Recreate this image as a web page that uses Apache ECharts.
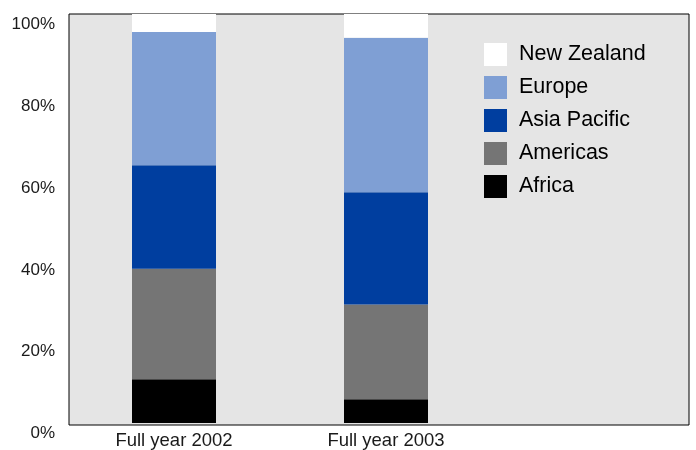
<!DOCTYPE html>
<html>
<head>
<meta charset="utf-8">
<script src="https://cdn.jsdelivr.net/npm/echarts@6/dist/echarts.min.js"></script>
<style>
  html, body { margin: 0; padding: 0; background: #ffffff; width: 696px; height: 450px; overflow: hidden; }
  /* the canvas is a little wider than the window so the third (empty) band fits */
  #chart { width: 720px; height: 450px; }
</style>
</head>
<body>
<div id="chart"></div>
<script>
// Regional share of the total, per year (percent, stacked to 100)
const categories = ['Full year 2002', 'Full year 2003'];
const africa      = [10.7, 5.8];
const americas    = [27.0, 23.2];
const asiaPacific = [25.3, 27.4];
const europe      = [32.6, 37.8];
const newZealand  = [4.4, 5.8];
const yTicks = [0, 20, 40, 60, 80, 100];

const regions = [
  { name: 'Africa',       values: africa,      color: '#000000' },
  { name: 'Americas',     values: americas,    color: '#757575' },
  { name: 'Asia Pacific', values: asiaPacific, color: '#003e9f' },
  { name: 'Europe',       values: europe,      color: '#7f9fd4' },
  { name: 'New Zealand',  values: newZealand,  color: '#ffffff' }
];

const font = '"Liberation Sans", Arial, Helvetica, sans-serif';

const chart = echarts.init(document.getElementById('chart'), null, { renderer: 'canvas' });

chart.setOption({
  animation: false,
  backgroundColor: '#ffffff',
  grid: [
    // framed plotting panel
    {
      left: 69, top: 14, width: 620, height: 411,
      show: true,
      backgroundColor: '#e5e5e5',
      borderColor: '#000000',
      borderWidth: 1
    },
    // bar layout: three equal category bands, the last one left empty
    {
      left: 68, top: 14, width: 636, height: 411,
      show: false
    }
  ],
  legend: {
    orient: 'vertical',
    left: 479,
    top: 38,
    itemWidth: 23,
    itemHeight: 23,
    itemGap: 10,
    icon: 'rect',
    data: regions.map(r => r.name).reverse(),
    textStyle: {
      fontFamily: font,
      fontSize: 21.5,
      color: '#000000',
      padding: [0, 0, 0, 7]
    }
  },
  xAxis: [
    {
      gridIndex: 0,
      type: 'value',
      show: false
    },
    {
      gridIndex: 1,
      type: 'category',
      data: categories.concat(['']),
      axisLine: { show: false },
      axisTick: { show: false },
      splitLine: { show: false },
      axisLabel: {
        fontFamily: font,
        fontSize: 18.5,
        color: '#1a1a1a',
        margin: 8
      }
    }
  ],
  yAxis: [
    {
      gridIndex: 0,
      type: 'value',
      show: false
    },
    {
      gridIndex: 1,
      type: 'value',
      min: yTicks[0],
      max: yTicks[yTicks.length - 1],
      interval: 20,
      axisLine: { show: false },
      axisTick: { show: false },
      splitLine: { show: false },
      axisLabel: {
        formatter: '{value}%',
        fontFamily: font,
        fontSize: 17,
        color: '#1a1a1a',
        margin: 13,
        verticalAlign: 'top',
        padding: [2, 0, 0, 0]
      }
    }
  ],
  series: regions.map(r => ({
    name: r.name,
    type: 'bar',
    xAxisIndex: 1,
    yAxisIndex: 1,
    stack: 'share',
    barWidth: 84,
    itemStyle: { color: r.color },
    emphasis: { disabled: true },
    data: r.values
  }))
});
</script>
</body>
</html>
